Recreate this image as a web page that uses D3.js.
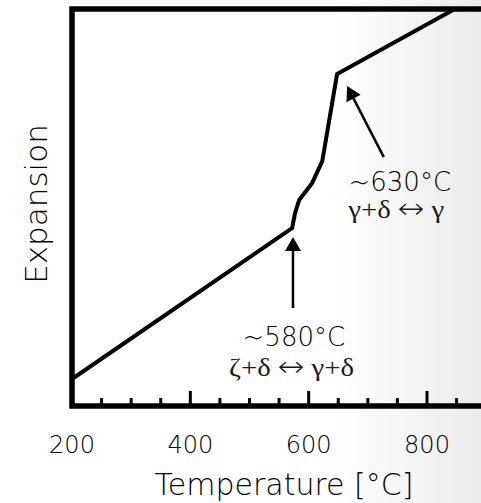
<!DOCTYPE html>
<html>
<head>
<meta charset="utf-8">
<script src="https://cdn.jsdelivr.net/npm/d3@7"></script>
<style>
  body { margin: 0; background: #fff; }
  svg { display: block; }
</style>
</head>
<body>
<div id="chart"></div>
<script>
var _width = 481;
var _height = 503;

// curve (temperature in degC, expansion in arbitrary units)
var temps     = [200, 572, 577, 584, 606, 623, 648, 847];
var expansion = [6.8, 44.8, 48.6, 51.9, 56.2, 61.7, 83.6, 100];

// x ticks
var tickValues  = [250, 300, 350, 400, 450, 500, 550, 600, 650, 700, 750, 800, 850];
var tickLabels  = [200, 400, 600, 800];

// annotation arrows: [tailT, tailE, tipT, tipE]
var arrows = [
    [727, 62.7, 665, 80.6],
    [573.5, 24.7, 573.5, 42.6]
];
// annotation labels: [T, E, text, kind]
var labels = [
    [754, 54.2, "~630\u00B0C", "sans"],
    [748, 47.4, "\u03B3+\u03B4 \u2194 \u03B3", "serif"],
    [575, 15.1, "~580\u00B0C", "sans"],
    [571, 7.6, "\u03B6+\u03B4 \u2194 \u03B3+\u03B4", "serif"]
];

var sans = "'DejaVu Sans', sans-serif";
var serif = "'Liberation Serif', 'DejaVu Serif', serif";

var x = d3.scaleLinear().domain([200, 800]).range([72, 427]);
var y = d3.scaleLinear().domain([0, 100]).range([406, 9]);

var svg = d3.select('#chart').append('svg')
    .attr('width', _width)
    .attr('height', _height);

// faint shading toward the right edge
var grad = svg.append('defs').append('linearGradient')
    .attr('id', 'bg').attr('x1', '0').attr('x2', '1').attr('y1', '0').attr('y2', '0');
grad.append('stop').attr('offset', '0.7').attr('stop-color', '#ffffff');
grad.append('stop').attr('offset', '1').attr('stop-color', '#ebebeb');
svg.append('rect').attr('width', _width).attr('height', _height).attr('fill', 'url(#bg)');

// ticks along the bottom, pointing up
svg.append('g').selectAll('line').data(tickValues).enter().append('line')
    .attr('x1', function (d) { return x(d); })
    .attr('x2', function (d) { return x(d); })
    .attr('y1', y(0))
    .attr('y2', function (d) { return d % 200 == 0 ? y(0) - 15 : y(0) - 8; })
    .style('stroke', 'black')
    .style('stroke-width', 3);

// frame: left, top and bottom (right side runs off the picture)
svg.append('path')
    .attr('d', 'M' + (_width + 10) + ',' + y(100) + 'H' + x(200) + 'V' + y(0) + 'H' + (_width + 10))
    .style('fill', 'none')
    .style('stroke', 'black')
    .style('stroke-width', 5.5);

// expansion curve
var line = d3.line()
    .x(function (d, i) { return x(temps[i]); })
    .y(function (d, i) { return y(expansion[i]); });

svg.append('path')
    .datum(temps)
    .attr('d', line)
    .style('fill', 'none')
    .style('stroke', 'black')
    .style('stroke-width', 4)
    .style('stroke-linejoin', 'miter');

// arrows
arrows.forEach(function (a) {
    var x0 = x(a[0]), y0 = y(a[1]), x1 = x(a[2]), y1 = y(a[3]);
    var dx = x1 - x0, dy = y1 - y0, len = Math.sqrt(dx * dx + dy * dy);
    var ux = dx / len, uy = dy / len;
    var hl = 14, hw = 8;
    var bx = x1 - ux * hl, by = y1 - uy * hl;
    svg.append('line')
        .attr('x1', x0).attr('y1', y0)
        .attr('x2', bx + ux * 1).attr('y2', by + uy * 1)
        .style('stroke', 'black')
        .style('stroke-width', 2.5);
    svg.append('path')
        .attr('d', 'M' + x1 + ',' + y1 +
                   'L' + (bx - uy * hw) + ',' + (by + ux * hw) +
                   'L' + (bx + uy * hw) + ',' + (by - ux * hw) + 'Z')
        .style('fill', 'black');
});

// annotation text
var ann = svg.append('g').selectAll('text').data(labels).enter().append('text')
    .attr('text-anchor', 'middle')
    .style('fill', '#000');

ann.each(function (d) {
    var t = d3.select(this);
    if (d[3] == 'sans') {
        t.attr('x', x(d[0])).attr('y', y(d[1]))
         .style('font-family', sans).style('font-size', '26px').style('font-weight', 300).text(d[2]);
    } else {
        // greek set a little wide like the original, the double arrow in the light sans
        var parts = d[2].split('\u2194');
        t.attr('transform', 'translate(' + x(d[0]) + ',' + y(d[1]) + ') scale(1.15,1)')
         .style('font-family', serif).style('font-size', '25px').style('fill', '#1a1a1a');
        t.append('tspan').text(parts[0].trim());
        t.append('tspan').attr('dx', 6).style('font-family', sans).style('font-weight', 300)
         .style('font-size', '28px').text('\u2194');
        t.append('tspan').attr('dx', 6).text(parts[1].trim());
    }
});

// tick labels
svg.append('g').selectAll('text').data(tickLabels).enter().append('text')
    .attr('x', function (d) { return x(d); })
    .attr('y', 453)
    .attr('text-anchor', 'middle')
    .style('font-family', sans)
    .style('font-size', '24px')
    .style('font-weight', 300)
    .style('fill', '#000')
    .text(function (d) { return d; });

// axis titles
svg.append('text')
    .attr('x', 284)
    .attr('y', 495)
    .attr('text-anchor', 'middle')
    .style('font-family', sans)
    .style('font-size', '30px')
    .style('font-weight', 300)
    .style('fill', '#000')
    .text('Temperature [\u00B0C]');

svg.append('text')
    .attr('transform', 'translate(47,204) rotate(-90)')
    .attr('text-anchor', 'middle')
    .style('font-family', sans)
    .style('font-size', '31px')
    .style('font-weight', 300)
    .style('fill', '#000')
    .text('Expansion');
</script>
</body>
</html>
